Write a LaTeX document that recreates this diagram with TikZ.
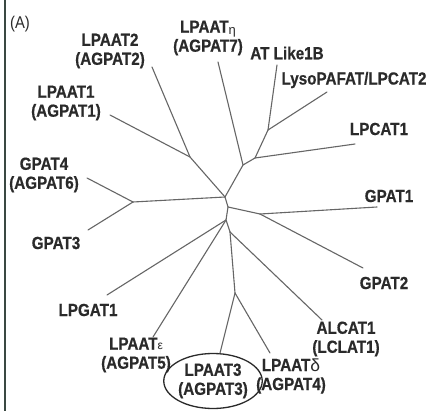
\documentclass[tikz,border=0pt]{standalone}
\usepackage{fontspec}
\setmainfont[FakeStretch=0.87, BoldFeatures={FakeBold=0.6}]{Liberation Sans}
\newfontfamily\greekfont{Liberation Sans}
\usetikzlibrary{shapes.geometric}
\definecolor{inkgray}{HTML}{2A2A2A}
\definecolor{branchgray}{HTML}{666666}
\definecolor{framegray}{HTML}{3A4842}
\tikzset{
  leaf/.style={inner sep=0pt, align=center, text=inkgray,
    font=\fontsize{17.5}{19}\selectfont\bfseries},
  branch/.style={draw=branchgray, line width=1.1pt, line cap=round, line join=round},
}
\newcommand{\gr}[1]{{\greekfont\mdseries #1}}
\begin{document}
\begin{tikzpicture}[x=1pt,y=-1pt]
  \useasboundingbox (0,0) rectangle (435,411);
  \fill[white] (0,0) rectangle (435,411);

  % left frame rule
  \draw[framegray, line width=2.8pt] (5,0) -- (5,411);

  % panel label
  \node[inner sep=0pt, text=inkgray, font=\fontsize{17}{19}\selectfont] (panel) at (20,24) {(A)};

  % leaf labels
  \node[leaf] (nlpaat2) at (110,51) {LPAAT2\\(AGPAT2)};
  \node[leaf] (nlpaat1) at (66,103) {LPAAT1\\(AGPAT1)};
  \node[leaf] (nlpaateta) at (208,38) {LPAAT\raisebox{-2pt}{\gr{\fontsize{13}{13}\selectfont η}}\\(AGPAT7)};
  \node[leaf] (natlike) at (287,53) {AT Like1B};
  \node[leaf] (nlyso) at (354,80) {LysoPAFAT/LPCAT2};
  \node[leaf] (nlpcat1) at (379,129) {LPCAT1};
  \node[leaf] (ngpat4) at (44,175) {GPAT4\\(AGPAT6)};
  \node[leaf] (ngpat3) at (56,243) {GPAT3};
  \node[leaf] (ngpat1) at (389,196) {GPAT1};
  \node[leaf] (ngpat2) at (384,283) {GPAT2};
  \node[leaf] (nlpgat1) at (88,310) {LPGAT1};
  \node[leaf] (nlpaateps) at (136,355) {LPAAT\gr{\fontsize{12}{12}\selectfont ε}\\(AGPAT5)};
  \node[leaf] (nlpaatd) at (291,376) {LPAAT\gr{δ}\\(AGPAT4)};
  \node[leaf] (nalcat1) at (346,339) {ALCAT1\\(LCLAT1)};
  \node[leaf, draw=inkgray, line width=1.3pt, ellipse, minimum width=88pt, minimum height=55pt]
    (nlpaat3) at (213,381) {LPAAT3\\(AGPAT3)};

  % internal nodes of the tree
  \coordinate (j1) at (190,157);
  \coordinate (ja) at (225,197);
  \coordinate (jgp) at (133,202);
  \coordinate (jb) at (243,165);
  \coordinate (jb2) at (255,158);
  \coordinate (jc) at (268,130);
  \coordinate (jd) at (228,207);
  \coordinate (je) at (260,214);
  \coordinate (jf) at (226,220);
  \coordinate (jh) at (230,232);
  \coordinate (jg) at (235,293);

  % branch tips
  \coordinate (tlpaat2) at (152,67);
  \coordinate (tlpaat1) at (110,115);
  \coordinate (tgpat4) at (87,178);
  \coordinate (tgpat3) at (88,230);
  \coordinate (teta) at (218,62);
  \coordinate (tlpcat1) at (355,144);
  \coordinate (tatlike) at (277,65);
  \coordinate (tlyso) at (327,92);
  \coordinate (tgpat1) at (377,207);
  \coordinate (tgpat2) at (363,268);
  \coordinate (tlpgat1) at (107,295);
  \coordinate (teps) at (153,337);
  \coordinate (talcat1) at (322,320);
  \coordinate (tdelta) at (270,353);

  % branches
  \draw[branch] (tlpaat2) -- (j1);
  \draw[branch] (tlpaat1) -- (j1);
  \draw[branch] (j1) -- (ja);
  \draw[branch] (tgpat4) -- (jgp);
  \draw[branch] (tgpat3) -- (jgp);
  \draw[branch] (jgp) -- (ja);
  \draw[branch] (ja) -- (jb);
  \draw[branch] (teta) -- (jb);
  \draw[branch] (jb) -- (jb2);
  \draw[branch] (jb2) -- (tlpcat1);
  \draw[branch] (jb2) -- (jc);
  \draw[branch] (jc) -- (tatlike);
  \draw[branch] (jc) -- (tlyso);
  \draw[branch] (ja) -- (jd);
  \draw[branch] (jd) -- (je);
  \draw[branch] (je) -- (tgpat1);
  \draw[branch] (je) -- (tgpat2);
  \draw[branch] (jd) -- (jf);
  \draw[branch] (jf) -- (tlpgat1);
  \draw[branch] (jf) -- (teps);
  \draw[branch] (jf) -- (jh);
  \draw[branch] (jh) -- (talcat1);
  \draw[branch] (jh) -- (jg);
  \draw[branch] (jg) -- (nlpaat3);
  \draw[branch] (jg) -- (tdelta);
\end{tikzpicture}
\end{document}
